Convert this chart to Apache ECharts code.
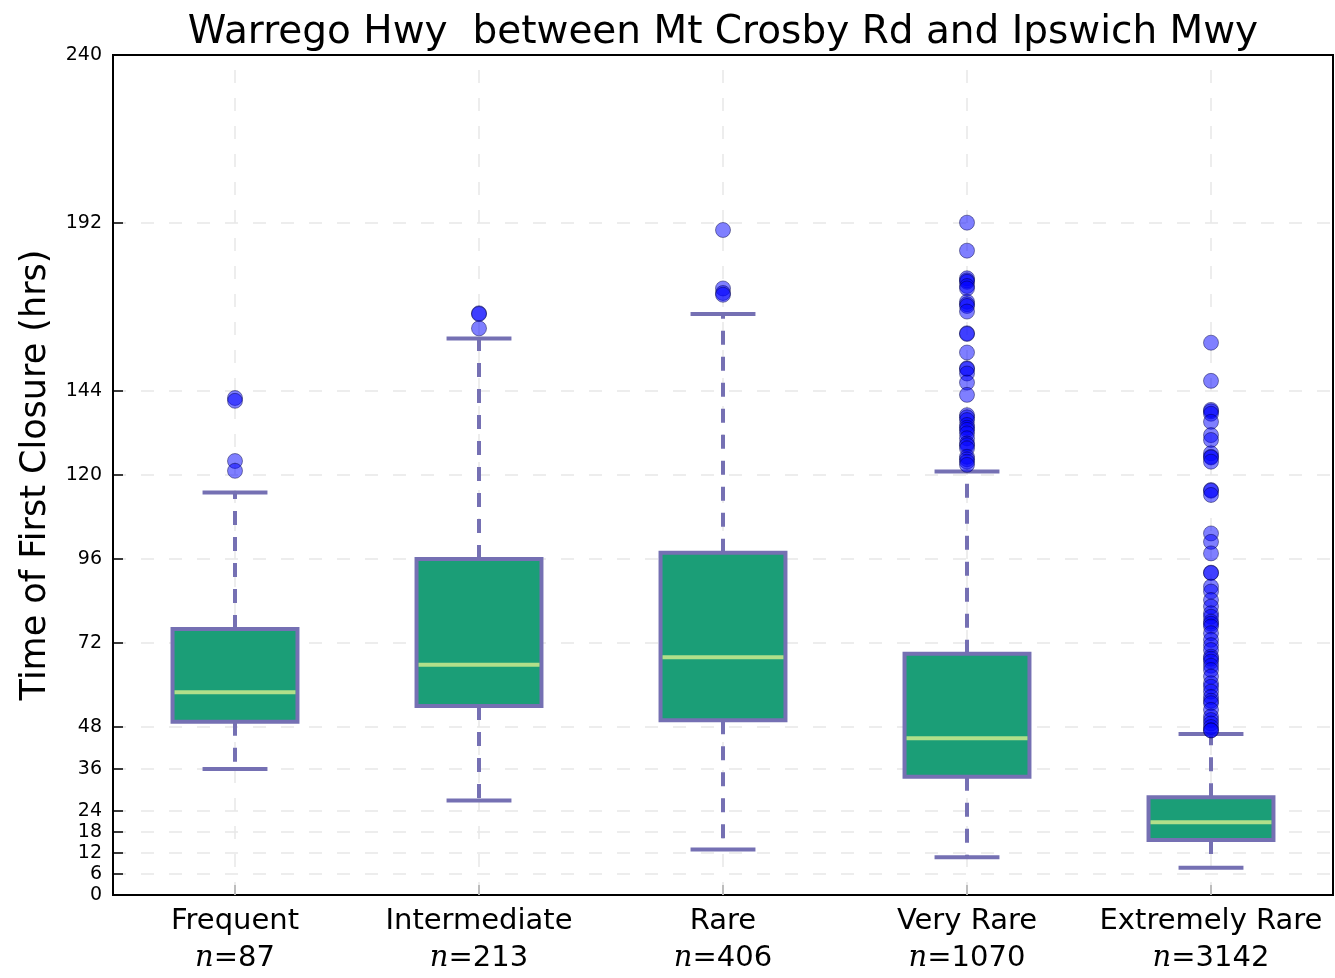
<!DOCTYPE html>
<html>
<head>
<meta charset="utf-8">
<script src="https://cdn.jsdelivr.net/npm/echarts@6/dist/echarts.min.js"></script>
<style>
html,body{margin:0;padding:0;background:#fff;}
#chart{width:1335px;height:978px;}
</style>
</head>
<body>
<div id="chart"></div>
<script>
const categories = ['Frequent', 'Intermediate', 'Rare', 'Very Rare', 'Extremely Rare'];
const counts = [87, 213, 406, 1070, 3142];
const whiskerLow = [36, 27, 13, 10.8, 7.8];
const q1 = [49.5, 54, 49.9, 33.8, 15.7];
const median = [57.9, 65.8, 67.9, 44.8, 20.8];
const q3 = [76, 96, 97.8, 68.9, 27.9];
const whiskerHigh = [115, 159, 166, 121, 46];
const yTicks = [0, 6, 12, 18, 24, 36, 48, 72, 96, 120, 144, 192, 240];

const outFrequent = [142, 141.2, 124, 121.2];
const outIntermediate = [166.2, 166, 161.9];
const outRare = [190, 173.3, 172, 171.5];
const outVeryRare = [192.1, 184.1, 176.2, 175.6, 175.2, 174, 173.3, 169.5, 168.8, 168.3, 166.7, 160.5, 160.3, 155, 150.5, 150.3, 149, 146.4, 142.9,
  137.1, 136.5, 135.7, 134.3, 133.5, 132.9, 131.9, 130.5, 129, 128.5, 127.6, 125.2, 124.5, 123.8, 122.9];
const outExtremelyRare = [157.8, 146.9, 138.6, 138.2, 137.5, 135.2, 131.4, 130, 126.2, 125.2, 125, 123.8, 115.7, 115.5, 114.3, 103.3, 100.9, 97.6,
  92.1, 92, 88.1, 86.7, 84.3, 82.4, 80.5, 79.5, 78.1, 77.5, 76.7, 74.8, 72.9, 71.4, 70, 68.1, 67.5, 66.7, 65.5, 64.3, 62.4, 60.5, 59.5,
  58.1, 56.6, 55.5, 54.8, 52.9, 51, 50, 49, 48, 47.1, 47];

const outliers = [outFrequent, outIntermediate, outRare, outVeryRare, outExtremelyRare];

const boxData = categories.map((c, i) => [i, whiskerLow[i], q1[i], median[i], q3[i], whiskerHigh[i]]);
const outlierData = [];
outliers.forEach((arr, i) => arr.forEach(v => outlierData.push([i, v])));

const PURPLE = '#7570b3';
const FILL = '#1b9e77';
const MED = '#b2df8a';

const chart = echarts.init(document.getElementById('chart'), null, {renderer: 'canvas'});
chart.setOption({
  backgroundColor: '#fff',
  animation: false,
  title: {
    text: 'Warrego Hwy  between Mt Crosby Rd and Ipswich Mwy',
    left: 718, textAlign: 'center', top: 8,
    textStyle: {fontFamily: 'DejaVu Sans', fontSize: 39, fontWeight: 'normal', color: '#000'}
  },
  grid: {
    left: 113, right: 2, top: 55, bottom: 83,
    show: true, borderColor: '#000', borderWidth: 2, backgroundColor: '#fff'
  },
  xAxis: [{
    type: 'category',
    data: categories,
    boundaryGap: true,
    axisLine: {lineStyle: {color: '#000', width: 2}},
    axisTick: {show: true, inside: true, alignWithLabel: true, length: 10, lineStyle: {color: '#000', width: 1.5}},
    splitLine: {show: false},
    axisLabel: {
      margin: 8,
      interval: 0,
      formatter: function (v) {
        const i = categories.indexOf(v);
        return '{a|' + v + '}\n{n|n}{b|=' + counts[i] + '}';
      },
      rich: {
        a: {fontFamily: 'DejaVu Sans', fontSize: 29, color: '#000', lineHeight: 37},
        n: {fontFamily: 'DejaVu Serif', fontStyle: 'italic', fontSize: 29, color: '#000', lineHeight: 37},
        b: {fontFamily: 'DejaVu Sans', fontSize: 29, color: '#000', lineHeight: 37}
      }
    }
  }, {
    type: 'category',
    data: categories,
    position: 'top',
    axisLine: {show: true, lineStyle: {color: '#000', width: 2}},
    axisTick: {show: false},
    axisLabel: {show: false},
    splitLine: {show: false}
  }],
  yAxis: {
    type: 'value',
    min: 0, max: 240, interval: 6,
    name: 'Time of First Closure (hrs)',
    nameLocation: 'middle',
    nameGap: 60,
    nameTextStyle: {fontFamily: 'DejaVu Sans', fontSize: 35, color: '#000'},
    axisLine: {show: true, lineStyle: {color: '#000', width: 2}},
    axisTick: {show: true, inside: true, length: 10, customValues: yTicks, lineStyle: {color: '#000', width: 1.5}},
    axisLabel: {customValues: yTicks, fontFamily: 'DejaVu Sans', fontSize: 19, color: '#000', margin: 11},
    splitLine: {show: true, lineStyle: {color: '#e8e8e8', width: 1.5, type: [13, 15]}}
  },
  series: [
    {
      type: 'custom',
      data: boxData,
      encode: {x: 0, y: [1, 2, 3, 4, 5]},
      z: 2,
      renderItem: function (params, api) {
        const i = api.value(0);
        const lo = api.value(1), a = api.value(2), m = api.value(3), b = api.value(4), hi = api.value(5);
        const band = api.size([1, 0])[0];
        const boxW = band * 0.512, capW = band * 0.266;
        const pLo = api.coord([i, lo]), pA = api.coord([i, a]), pM = api.coord([i, m]),
              pB = api.coord([i, b]), pHi = api.coord([i, hi]);
        const gTop = api.coord([i, 240]), gBot = api.coord([i, 0]);
        const x = pM[0];
        const whiskStyle = {stroke: PURPLE, lineWidth: 4, lineDash: [14, 12], fill: null};
        return {
          type: 'group',
          children: [
            {type: 'line', shape: {x1: x, y1: gBot[1], x2: x, y2: gTop[1] + 2},
             style: {stroke: '#e8e8e8', lineWidth: 1.5, lineDash: [13, 15]}},
            {type: 'line', shape: {x1: x, y1: pB[1], x2: x, y2: pHi[1]}, style: whiskStyle},
            {type: 'line', shape: {x1: x, y1: pA[1], x2: x, y2: pLo[1]}, style: whiskStyle},
            {type: 'line', shape: {x1: x - capW / 2, y1: pHi[1], x2: x + capW / 2, y2: pHi[1]},
             style: {stroke: PURPLE, lineWidth: 4}},
            {type: 'line', shape: {x1: x - capW / 2, y1: pLo[1], x2: x + capW / 2, y2: pLo[1]},
             style: {stroke: PURPLE, lineWidth: 4}},
            {type: 'rect', shape: {x: x - boxW / 2, y: pB[1], width: boxW, height: pA[1] - pB[1]},
             style: {fill: FILL, stroke: PURPLE, lineWidth: 4}},
            {type: 'line', shape: {x1: x - boxW / 2 + 2, y1: pM[1], x2: x + boxW / 2 - 2, y2: pM[1]},
             style: {stroke: MED, lineWidth: 4}}
          ]
        };
      }
    },
    {
      type: 'scatter',
      data: outlierData,
      z: 3,
      symbol: 'circle',
      symbolSize: 15,
      itemStyle: {color: 'rgba(0,0,255,0.5)', borderColor: 'rgba(0,0,60,0.45)', borderWidth: 1, opacity: 1}
    }
  ]
});
</script>
</body>
</html>
